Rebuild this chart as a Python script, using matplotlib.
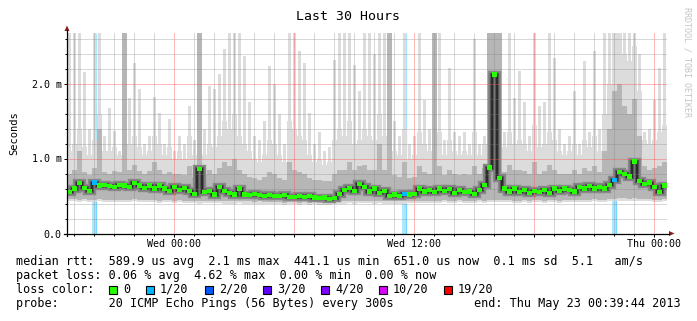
import matplotlib
matplotlib.use("Agg")
import matplotlib.pyplot as plt
import matplotlib.dates as mdates
from matplotlib.patches import Polygon, Rectangle
from matplotlib.lines import Line2D
from matplotlib.ticker import MultipleLocator, FuncFormatter
import numpy as np
import pandas as pd

W, H = 697, 321
MONO = "DejaVu Sans Mono"

# time range of the graph (30 hours, 15 minute columns)
start = pd.Timestamp("2013-05-21 18:39:44")
end = pd.Timestamp("2013-05-23 00:39:44")

# median rtt in ms, one value per column
median = [0.55, 0.60, 0.67, 0.61, 0.57, 0.68, 0.64, 0.65, 0.63, 0.62,
          0.65, 0.64, 0.62, 0.67, 0.64, 0.61, 0.64, 0.60, 0.64, 0.60,
          0.57, 0.62, 0.58, 0.61, 0.57, 0.53, 0.86, 0.55, 0.57, 0.52,
          0.62, 0.57, 0.54, 0.52, 0.60, 0.52, 0.51, 0.53, 0.51, 0.50,
          0.51, 0.50, 0.50, 0.51, 0.49, 0.49, 0.50, 0.49, 0.50, 0.48,
          0.47, 0.48, 0.46, 0.47, 0.53, 0.58, 0.61, 0.57, 0.66, 0.62,
          0.56, 0.60, 0.54, 0.57, 0.50, 0.52, 0.50, 0.53, 0.52, 0.53,
          0.60, 0.56, 0.58, 0.55, 0.60, 0.57, 0.59, 0.54, 0.58, 0.55,
          0.56, 0.53, 0.58, 0.65, 0.88, 2.12, 0.74, 0.60, 0.56, 0.60,
          0.55, 0.58, 0.54, 0.57, 0.55, 0.58, 0.54, 0.60, 0.57, 0.60,
          0.58, 0.56, 0.62, 0.60, 0.63, 0.60, 0.62, 0.60, 0.65, 0.71,
          0.82, 0.79, 0.76, 0.96, 0.70, 0.66, 0.68, 0.62, 0.55, 0.64]

# lost pings (out of 20) per column
loss = [0, 0, 0, 0, 0, 1, 0, 0, 0, 0, 0, 0, 0, 0, 0, 0, 0, 0, 0, 0,
        0, 0, 0, 0, 0, 0, 0, 0, 0, 0, 0, 0, 0, 0, 0, 0, 0, 0, 0, 0,
        0, 0, 0, 0, 0, 0, 0, 0, 0, 0, 0, 0, 0, 0, 0, 0, 0, 0, 0, 0,
        0, 0, 0, 0, 0, 0, 0, 1, 0, 0, 0, 0, 0, 0, 0, 0, 0, 0, 0, 0,
        0, 0, 0, 0, 0, 0, 0, 0, 0, 0, 0, 0, 0, 0, 0, 0, 0, 0, 0, 0,
        0, 0, 0, 0, 0, 0, 0, 0, 0, 1, 0, 0, 0, 0, 0, 0, 0, 0, 0, 0]

# fastest ping per column (ms)
ping_min = [0.43, 0.43, 0.42, 0.43, 0.42, 0.42, 0.43, 0.42, 0.42, 0.42,
            0.42, 0.42, 0.42, 0.43, 0.42, 0.42, 0.42, 0.42, 0.41, 0.42,
            0.42, 0.41, 0.42, 0.41, 0.41, 0.41, 0.40, 0.41, 0.41, 0.41,
            0.41, 0.40, 0.40, 0.40, 0.41, 0.40, 0.40, 0.39, 0.40, 0.39,
            0.39, 0.39, 0.39, 0.38, 0.39, 0.39, 0.38, 0.39, 0.38, 0.39,
            0.38, 0.38, 0.38, 0.39, 0.40, 0.40, 0.41, 0.40, 0.41, 0.41,
            0.41, 0.40, 0.41, 0.40, 0.40, 0.40, 0.40, 0.40, 0.41, 0.41,
            0.41, 0.41, 0.41, 0.41, 0.41, 0.42, 0.41, 0.41, 0.42, 0.41,
            0.41, 0.41, 0.42, 0.41, 0.42, 0.42, 0.42, 0.42, 0.42, 0.41,
            0.41, 0.42, 0.41, 0.42, 0.42, 0.41, 0.42, 0.42, 0.41, 0.42,
            0.42, 0.42, 0.42, 0.42, 0.42, 0.43, 0.42, 0.42, 0.43, 0.43,
            0.44, 0.44, 0.43, 0.44, 0.43, 0.43, 0.43, 0.42, 0.42, 0.43]

# upper edge of the medium grey smoke (ms)
ping_mid = [0.80, 0.85, 1.10, 0.82, 0.78, 0.88, 1.40, 0.82, 0.80, 0.84,
            0.82, 2.70, 0.85, 0.92, 0.84, 0.80, 0.83, 0.95, 0.85, 0.80,
            0.82, 0.80, 0.80, 0.78, 0.90, 0.76, 2.70, 0.78, 0.85, 0.80,
            0.88, 0.95, 0.90, 1.00, 0.85, 0.80, 0.76, 0.74, 0.72, 0.75,
            0.82, 0.80, 0.74, 0.72, 0.95, 0.85, 0.82, 0.80, 0.74, 0.72,
            0.72, 0.70, 0.70, 0.80, 0.85, 0.85, 0.95, 0.85, 0.90, 0.92,
            0.85, 0.85, 1.20, 0.85, 2.70, 0.78, 0.75, 0.95, 0.74, 0.76,
            0.90, 0.82, 0.80, 2.70, 0.90, 0.78, 0.85, 0.80, 0.78, 0.80,
            0.78, 0.90, 0.80, 0.88, 2.70, 2.70, 2.70, 0.82, 0.92, 0.85,
            0.85, 0.84, 0.80, 0.95, 0.80, 0.84, 0.92, 0.85, 0.80, 0.80,
            0.80, 0.85, 0.80, 0.88, 0.84, 0.90, 0.82, 1.10, 1.40, 1.90,
            2.00, 1.70, 1.60, 1.80, 1.30, 0.90, 0.85, 0.88, 0.90, 0.95]

# upper edge of the continuous light smoke (ms)
ping_high = [1.10, 1.20, 1.40, 1.15, 1.05, 1.25, 1.60, 1.10, 1.10, 1.15,
             1.05, 1.30, 1.20, 1.30, 1.15, 1.05, 1.10, 1.30, 1.20, 1.05,
             1.15, 1.00, 1.10, 1.00, 1.30, 1.05, 1.30, 1.05, 1.20, 1.15,
             1.30, 1.50, 1.40, 1.60, 1.30, 1.20, 1.10, 1.00, 0.95, 1.05,
             1.25, 1.20, 1.05, 0.95, 1.50, 1.40, 1.30, 1.25, 1.05, 0.95,
             1.00, 0.92, 0.95, 1.25, 1.40, 1.30, 1.50, 1.20, 1.25, 1.40,
             1.30, 1.25, 1.60, 1.30, 1.50, 1.10, 1.05, 1.40, 1.00, 1.05,
             1.35, 1.20, 1.10, 1.50, 1.35, 1.05, 1.25, 1.10, 1.05, 1.10,
             1.05, 1.35, 1.05, 1.20, 2.70, 2.70, 2.70, 1.15, 1.35, 1.20,
             1.25, 1.20, 1.10, 1.45, 1.15, 1.20, 1.35, 1.25, 1.10, 1.05,
             1.10, 1.20, 1.05, 1.25, 1.15, 1.30, 1.10, 1.60, 2.00, 2.70,
             2.70, 2.40, 2.30, 2.50, 1.90, 1.25, 1.20, 1.25, 1.35, 1.45]

# slowest ping per column (ms, clipped at graph top)
ping_max = [2.70, 2.70, 2.70, 2.15, 1.40, 2.70, 2.70, 1.30, 1.68, 1.37,
            1.10, 2.70, 1.80, 2.28, 1.93, 1.20, 1.30, 1.82, 1.60, 1.20,
            1.53, 1.10, 1.30, 1.20, 1.70, 1.25, 2.70, 1.40, 1.97, 1.93,
            2.13, 2.46, 2.70, 2.70, 2.70, 2.37, 1.75, 1.30, 1.25, 1.50,
            2.24, 2.00, 1.60, 1.20, 2.70, 2.70, 2.44, 2.27, 1.60, 1.20,
            1.35, 1.10, 1.15, 2.32, 2.70, 2.70, 2.70, 2.24, 1.90, 2.70,
            2.70, 2.40, 2.70, 2.70, 2.70, 1.50, 1.30, 2.70, 1.20, 1.30,
            2.70, 1.78, 1.40, 2.70, 2.70, 1.25, 2.20, 1.35, 1.30, 1.35,
            1.20, 2.60, 1.20, 1.30, 2.70, 2.70, 2.70, 1.35, 2.70, 1.80,
            2.17, 1.75, 1.30, 2.70, 1.70, 1.75, 2.70, 2.34, 1.40, 1.20,
            1.30, 1.90, 1.20, 2.30, 1.35, 2.44, 1.40, 2.70, 2.70, 2.70,
            2.70, 2.70, 2.70, 2.70, 2.40, 1.35, 1.40, 1.78, 2.20, 2.70]

loss_colors = {0: "#26ff00", 1: "#00b8ff", 2: "#0059ff", 3: "#5e00ff",
               4: "#7e00ff", 10: "#dd00ff", 19: "#ff0000"}
loss_labels = ["0", "1/20", "2/20", "3/20", "4/20", "10/20", "19/20"]
loss_keys = [0, 1, 2, 3, 4, 10, 19]


def fx(px):
    return px / W


def fy(py):
    return 1 - py / H


def ext(a):
    return np.append(a, a[-1])


fig = plt.figure(figsize=(W / 100, H / 100), dpi=100)
fig.patch.set_facecolor("white")
ax = fig.add_axes([fx(67), fy(233.5), 600 / W, 201 / H])

edges = mdates.date2num(pd.date_range(start, end, freq="15min").to_pydatetime())
centers = (edges[:-1] + edges[1:]) / 2
colw = edges[1] - edges[0]
med = np.array(median)
pmin = np.array(ping_min)

# loss bars behind the smoke
for i, l in enumerate(loss):
    if l > 0:
        ax.bar(centers[i], pmin[i], width=colw * 0.9, color=loss_colors[l],
               alpha=0.33, lw=0, zorder=0.5)
        ax.vlines(centers[i] + colw * 0.36, 0, 2.68, color=loss_colors[l],
                  alpha=0.33, lw=1.0, zorder=0.5)

# smoke: thin spikes, light body, medium body, dark core
ax.bar(centers, np.array(ping_max) - pmin, bottom=pmin, width=colw * 0.5,
       color="#dcdcdc", lw=0, zorder=1)
ax.fill_between(edges, ext(pmin), ext(ping_high), step="post",
                color="#dcdcdc", lw=0, zorder=1.05)
ax.fill_between(edges, ext(pmin + 0.03), ext(ping_mid), step="post",
                color="#b6b6b6", lw=0, zorder=1.1)
for lw, c in [(6, "#888888"), (3.2, "#555555"), (1.4, "#2a2a2a")]:
    ax.step(edges, ext(med), where="post", color=c, lw=lw,
            solid_joinstyle="miter", solid_capstyle="butt", zorder=1.5)

# median coloured by loss
ax.scatter(centers, med, s=9, marker="s", c=[loss_colors[l] for l in loss],
           linewidths=0, zorder=4)

ax.set_xlim(edges[0], edges[-1])
ax.set_ylim(0, 2.68)

ax.xaxis.set_major_locator(mdates.HourLocator(byhour=[0, 6, 12, 18]))
ax.xaxis.set_minor_locator(mdates.HourLocator())


def xfmt(x, pos):
    d = mdates.num2date(x)
    if d.hour in (0, 12):
        return d.strftime("%a %H:%M")
    return ""


ax.xaxis.set_major_formatter(FuncFormatter(xfmt))
ax.yaxis.set_major_locator(MultipleLocator(1.0))
ax.yaxis.set_minor_locator(MultipleLocator(0.2))
ax.yaxis.set_major_formatter(FuncFormatter(lambda v, p: "0.0" if v == 0 else f"{v:.1f} m"))

ax.set_axisbelow(False)
ax.grid(which="major", color="#ff5050", alpha=0.4, lw=0.72)
ax.grid(which="minor", color="#808080", alpha=0.3, lw=0.72)
ax.tick_params(which="major", length=2.2, width=0.72, pad=1.5, labelsize=7.2)
ax.tick_params(which="minor", length=1.4, width=0.72)
for lab in ax.get_xticklabels() + ax.get_yticklabels():
    lab.set_family(MONO)
for s in ax.spines.values():
    s.set_visible(False)
ax.set_facecolor("none")

# axes with arrows
fig.add_artist(Line2D([fx(67), fx(67)], [fy(236), fy(30)], color="black", lw=0.9))
fig.add_artist(Line2D([fx(64), fx(669)], [fy(233.5), fy(233.5)], color="black", lw=0.9))
fig.add_artist(Polygon([(fx(64.5), fy(31)), (fx(69.5), fy(31)), (fx(67), fy(25.5))],
                       closed=True, color="#8b1a1a", lw=0))
fig.add_artist(Polygon([(fx(669), fy(231)), (fx(669), fy(236)), (fx(674.5), fy(233.5))],
                       closed=True, color="#8b1a1a", lw=0))

# texts
fig.text(fx(348), fy(20.5), "Last 30 Hours", ha="center", va="baseline",
         family=MONO, size=9.5)
fig.text(fx(14), fy(133), "Seconds", rotation=90, ha="center", va="center",
         family=MONO, size=7.5)
fig.text(fx(687), fy(7), "RRDTOOL / TOBI OETIKER", rotation=270, ha="center", va="top",
         family=MONO, size=6, color="#c4c4c4")

lines = ["median rtt:  589.9 us avg  2.1 ms max  441.1 us min  651.0 us now  0.1 ms sd  5.1   am/s",
         "packet loss: 0.06 % avg  4.62 % max  0.00 % min  0.00 % now",
         "loss color:",
         "probe:       20 ICMP Echo Pings (56 Bytes) every 300s"]
for k, txt in enumerate(lines):
    fig.text(fx(16), fy(265 + 14 * k), txt, ha="left", va="baseline", family=MONO, size=8.5)
fig.text(fx(681), fy(307), "end: Thu May 23 00:39:44 2013", ha="right", va="baseline",
         family=MONO, size=8.5)

sq_x = [109, 146, 205, 263, 321, 379, 444]
for xs, key, lab in zip(sq_x, loss_keys, loss_labels):
    fig.add_artist(Rectangle((fx(xs), fy(294)), 8 / W, 8 / H, facecolor=loss_colors[key],
                             edgecolor="black", lw=0.8))
    fig.text(fx(xs + 14), fy(293), lab, ha="left", va="baseline", family=MONO, size=8.5)

fig.savefig("out.png", dpi=100)
